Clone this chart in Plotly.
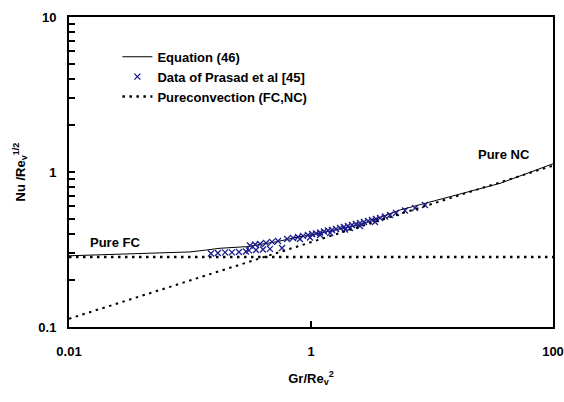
import plotly.graph_objects as go

# Equation (46) curve
eq_x = [0.01, 0.0565, 0.10, 0.137, 0.177, 0.294, 0.521, 0.81, 0.98, 2.54, 5.45, 14.1, 36.5, 100]
eq_y = [0.288, 0.299, 0.305, 0.314, 0.322, 0.330, 0.355, 0.383, 0.392, 0.455, 0.569, 0.693, 0.845, 1.13]

# Data of Prasad et al [45]
data_x = [0.149, 0.170, 0.195, 0.222, 0.254, 0.290,
          0.307, 0.351, 0.401, 0.458, 0.576,
          0.313, 0.345, 0.379, 0.425, 0.476, 0.534, 0.634, 0.710, 0.781, 0.859,
          0.944, 1.02, 1.10, 1.19, 1.28, 1.38, 1.49, 1.61, 1.74, 1.87, 2.02,
          2.18, 2.35, 2.54, 2.74, 2.96, 3.19, 3.44, 3.72, 4.09, 4.50, 5.04,
          5.98, 7.24, 8.75,
          0.81, 0.98, 1.19, 1.44, 1.91, 2.54, 3.38, 2.10]
data_y = [0.298, 0.300, 0.303, 0.303, 0.305, 0.307,
          0.312, 0.314, 0.316, 0.319, 0.323,
          0.336, 0.341, 0.343, 0.348, 0.354, 0.359, 0.370, 0.375, 0.381, 0.387,
          0.392, 0.398, 0.401, 0.407, 0.413, 0.419, 0.423, 0.429, 0.435, 0.442, 0.448,
          0.455, 0.462, 0.469, 0.476, 0.483, 0.490, 0.497, 0.505, 0.516, 0.528, 0.544,
          0.565, 0.586, 0.612,
          0.370, 0.378, 0.392, 0.404, 0.426, 0.448, 0.476, 0.435]

# Pure convection limits
fc_x = [0.01, 100]
fc_y = [0.283, 0.283]
nc_x = [0.01, 100]
nc_y = [0.113, 1.10]

# Axis ticks
x_tickvals = [0.01, 1, 100]
x_ticktext = ["0.01", "1", "100"]
y_tickvals = [0.1, 0.2, 0.3, 0.4, 0.5, 0.6, 0.7, 0.8, 0.9,
              1, 2, 3, 4, 5, 6, 7, 8, 9, 10]
y_ticktext = ["0.1", "", "", "", "", "", "", "", "",
              "1", "", "", "", "", "", "", "", "", "10"]

font_family = "Arial"
bold = 700
dot_style = "2.5px,4.5px"

fig = go.Figure()
fig.add_trace(go.Scatter(x=eq_x, y=eq_y, mode="lines", name="Equation (46)",
                         line=dict(color="black", width=1)))
fig.add_trace(go.Scatter(x=data_x, y=data_y, mode="markers", name="Data of Prasad et al [45]",
                         marker=dict(symbol="x-thin", size=6, color="#1c1c8c",
                                     line=dict(color="#1c1c8c", width=1.3))))
fig.add_trace(go.Scatter(x=fc_x, y=fc_y, mode="lines", name="Pureconvection (FC,NC)",
                         line=dict(color="black", width=2.5, dash=dot_style)))
fig.add_trace(go.Scatter(x=nc_x, y=nc_y, mode="lines", showlegend=False,
                         line=dict(color="black", width=2, dash=dot_style)))

fig.add_annotation(x=-1.62, y=-0.452, xref="x", yref="y", text="Pure FC",
                   showarrow=False, font=dict(size=13, color="black", family=font_family, weight=bold))
fig.add_annotation(x=1.595, y=0.110, xref="x", yref="y", text="Pure NC",
                   showarrow=False, font=dict(size=13, color="black", family=font_family, weight=bold))

fig.update_layout(
    width=564, height=402,
    margin=dict(l=69, r=11, t=17, b=75),
    plot_bgcolor="white", paper_bgcolor="white",
    font=dict(family=font_family, size=13, color="black", weight=bold),
    legend=dict(x=0.10, y=0.92, xanchor="left", yanchor="top",
                bgcolor="rgba(0,0,0,0)",
                font=dict(size=13, family=font_family, weight=bold),
                tracegroupgap=0, itemwidth=30),
    xaxis=dict(type="log", range=[-2, 2], tickmode="array",
               tickvals=x_tickvals, ticktext=x_ticktext,
               showline=True, linecolor="#000000", linewidth=2, mirror=True,
               showgrid=False, zeroline=False, automargin=False,
               ticks="inside", ticklen=6, tickcolor="#000000", tickwidth=1.5,
               tickfont=dict(size=13, family=font_family, weight=bold),
               ticklabelstandoff=11,
               title=dict(text="Gr/Re<sub>v</sub><sup>2</sup>",
                          font=dict(size=13, family=font_family, weight=bold), standoff=16)),
    yaxis=dict(type="log", range=[-1, 1], tickmode="array",
               tickvals=y_tickvals, ticktext=y_ticktext,
               showline=True, linecolor="#000000", linewidth=2, mirror=True,
               showgrid=False, zeroline=False, automargin=False,
               ticks="inside", ticklen=6, tickcolor="#000000", tickwidth=1.5,
               tickfont=dict(size=13, family=font_family, weight=bold),
               ticklabelstandoff=8,
               title=dict(text="Nu /Re<sub>v</sub><sup>1/2</sup>",
                          font=dict(size=13, family=font_family, weight=bold), standoff=10)),
)

fig.write_html("out.html")
